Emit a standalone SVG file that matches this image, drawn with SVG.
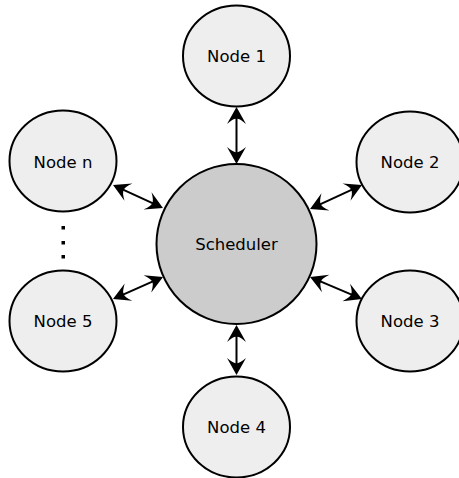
<svg xmlns="http://www.w3.org/2000/svg" width="459" height="478" viewBox="0 0 459 478">
<style>
.node ellipse{fill:#eeeeee;stroke:#000;stroke-width:2}
.sched ellipse{fill:#cccccc;stroke:#000;stroke-width:2}
text{font-family:"DejaVu Sans",sans-serif;font-size:16.5px;fill:#000;text-anchor:middle}
.conn line{stroke:#000;stroke-width:2;marker-start:url(#ah);marker-end:url(#ah)}
</style>
<defs>
<marker id="ah" markerUnits="userSpaceOnUse" orient="auto-start-reverse" refX="9" refY="0" markerWidth="20" markerHeight="20" overflow="visible">
<path d="M17,0 L0,-9.5 Q6,-2.5 5,0 Q6,2.5 0,9.5 Z" fill="#000"/>
</marker>
</defs>
<rect width="459" height="478" fill="#fff"/>
<g id="scheduler" class="sched"><ellipse cx="236.5" cy="244" rx="80" ry="80"/><text x="236.5" y="249.5">Scheduler</text></g>
<g id="node1" class="node"><ellipse cx="236.5" cy="56" rx="53.5" ry="50.5"/><text x="236.5" y="62">Node 1</text></g>
<g id="node2" class="node"><ellipse cx="410" cy="162" rx="53.5" ry="50.5"/><text x="410" y="168">Node 2</text></g>
<g id="node3" class="node"><ellipse cx="410" cy="321" rx="53.5" ry="50.5"/><text x="410" y="327">Node 3</text></g>
<g id="node4" class="node"><ellipse cx="236.5" cy="427" rx="53.5" ry="50.5"/><text x="236.5" y="433">Node 4</text></g>
<g id="node5" class="node"><ellipse cx="63" cy="321" rx="53.5" ry="50.5"/><text x="63" y="327">Node 5</text></g>
<g id="noden" class="node"><ellipse cx="63" cy="161" rx="53.5" ry="50.5"/><text x="63" y="167.5">Node n</text></g>
<g id="dots" fill="#000"><rect x="61.5" y="226" width="3.5" height="3.5"/><rect x="61.5" y="241" width="3.5" height="3.5"/><rect x="61.5" y="255" width="3.5" height="3.5"/></g>
<g id="connectors" class="conn">
<line x1="236.5" y1="115" x2="236.5" y2="156"/>
<line x1="236.5" y1="333" x2="236.5" y2="367"/>
<line x1="120.3" y1="188.3" x2="155.7" y2="204.7"/>
<line x1="120.3" y1="295.8" x2="155.7" y2="280.2"/>
<line x1="317.3" y1="205.6" x2="354.7" y2="188.4"/>
<line x1="317.4" y1="280.1" x2="354.6" y2="295.9"/>
</g>
</svg>
